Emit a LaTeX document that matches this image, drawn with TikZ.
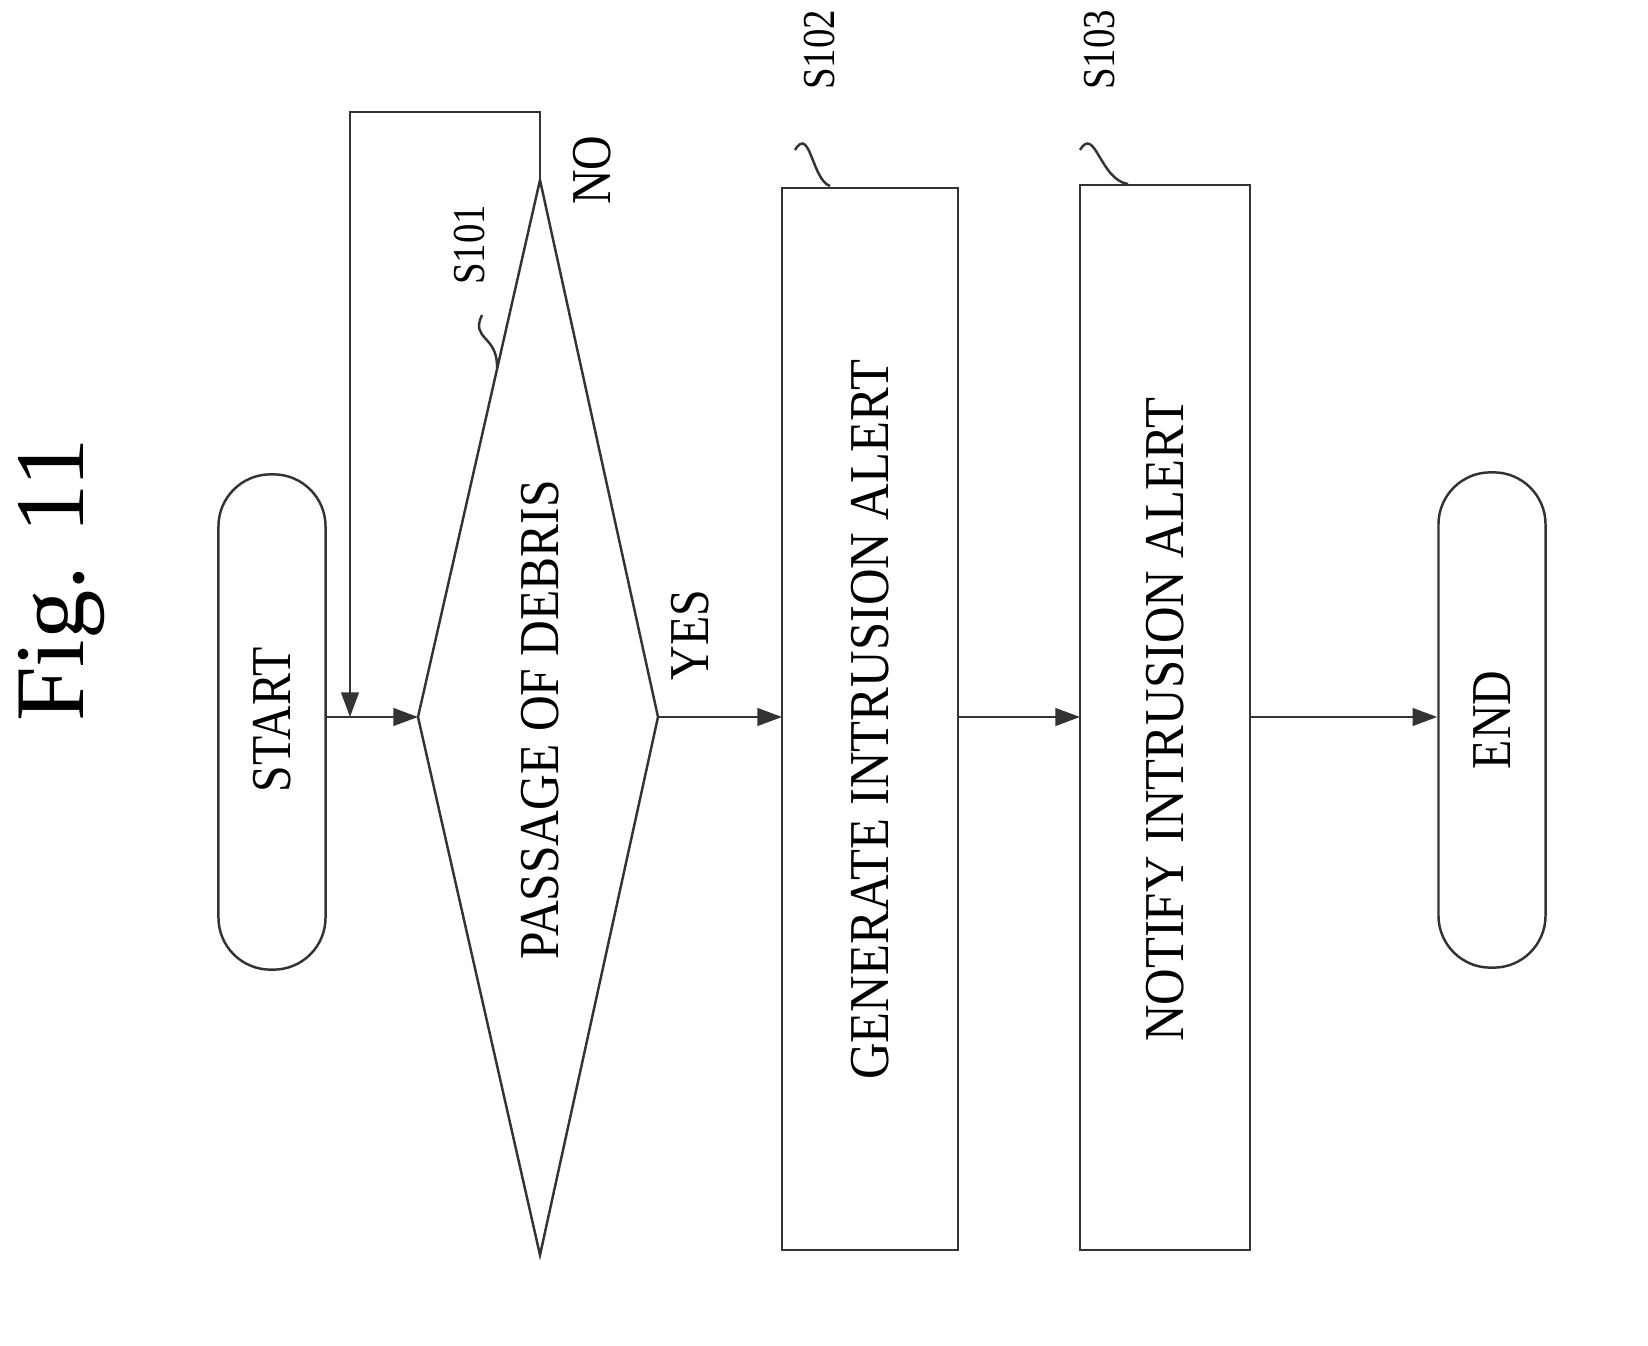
\documentclass[tikz,border=0pt]{standalone}
\usepackage{fontspec}
\setmainfont{Liberation Serif}
\usetikzlibrary{arrows.meta,shapes.geometric}
\begin{document}
\begin{tikzpicture}[x=0.01cm,y=-0.01cm,
  ln/.style={line width=0.7pt,draw=black!80},
  arr/.style={ln,-{Triangle[length=7pt,width=5pt]}},
  term/.style={ln,rounded corners=0.52cm,minimum width=1.07cm,minimum height=4.95cm,inner sep=0pt},
  txt/.style={rotate=90,font=\fontsize{16}{18}\selectfont,inner sep=0pt},
  lbl/.style={rotate=90,font=\fontsize{13}{15}\selectfont,inner sep=0pt}]
\useasboundingbox (0,0) rectangle (1648,1346);
\node[rotate=90,font=\fontsize{28}{32}\selectfont] (title) at (62,580) {Fig. 11};
% start
\node[term,draw] (start) at (272,722) {};
\node[txt] (st) at (272,720) {\scalebox{0.85}[1]{START}};
% diamond
\coordinate (dL) at (418,717); \coordinate (dR) at (658,717);
\coordinate (dT) at (540,180); \coordinate (dB) at (540,1255);
\draw[ln] (dL)--(dT)--(dR)--(dB)--cycle;
\node[txt] (dt) at (540,720) {\scalebox{0.88}[1]{PASSAGE OF DEBRIS}};
\coordinate (lp1) at (540,112); \coordinate (lp2) at (350,112); \coordinate (lp3) at (350,717);
\draw[arr] (dT)--(lp1)--(lp2)--(lp3);
\draw[arr] (start.east|-dL)--(dL);
\node[txt] (no) at (592,170) {\scalebox{0.85}[1]{NO}};
\node[txt] (yes) at (690,635) {\scalebox{0.85}[1]{YES}};
\node[lbl] (s101) at (470,245) {\scalebox{0.85}[1]{S101}};
\draw[ln] (482,315) .. controls (470,340) and (498,335) .. (497,368);
% box1
\draw[ln] (782,188) rectangle (958,1250);
\node[txt] (b1) at (870,720) {\scalebox{0.9}[1]{GENERATE INTRUSION ALERT}};
\node[lbl] (s102) at (820,50) {\scalebox{0.85}[1]{S102}};
\draw[ln] (795,150) .. controls (810,125) and (812,180) .. (830,186);
\draw[arr] (dR)--(782,717);
% box2
\draw[ln] (1080,185) rectangle (1250,1250);
\node[txt] (b2) at (1165,720) {\scalebox{0.9}[1]{NOTIFY INTRUSION ALERT}};
\node[lbl] (s103) at (1100,50) {\scalebox{0.85}[1]{S103}};
\draw[ln] (1080,150) .. controls (1095,125) and (1100,180) .. (1128,184);
\draw[arr] (958,717)--(1080,717);
% end
\node[term,draw] (end) at (1492,720) {};
\node[txt] (en) at (1492,720) {\scalebox{0.85}[1]{END}};
\draw[arr] (1250,717)--(end.west|-dL);
\end{tikzpicture}
\end{document}
